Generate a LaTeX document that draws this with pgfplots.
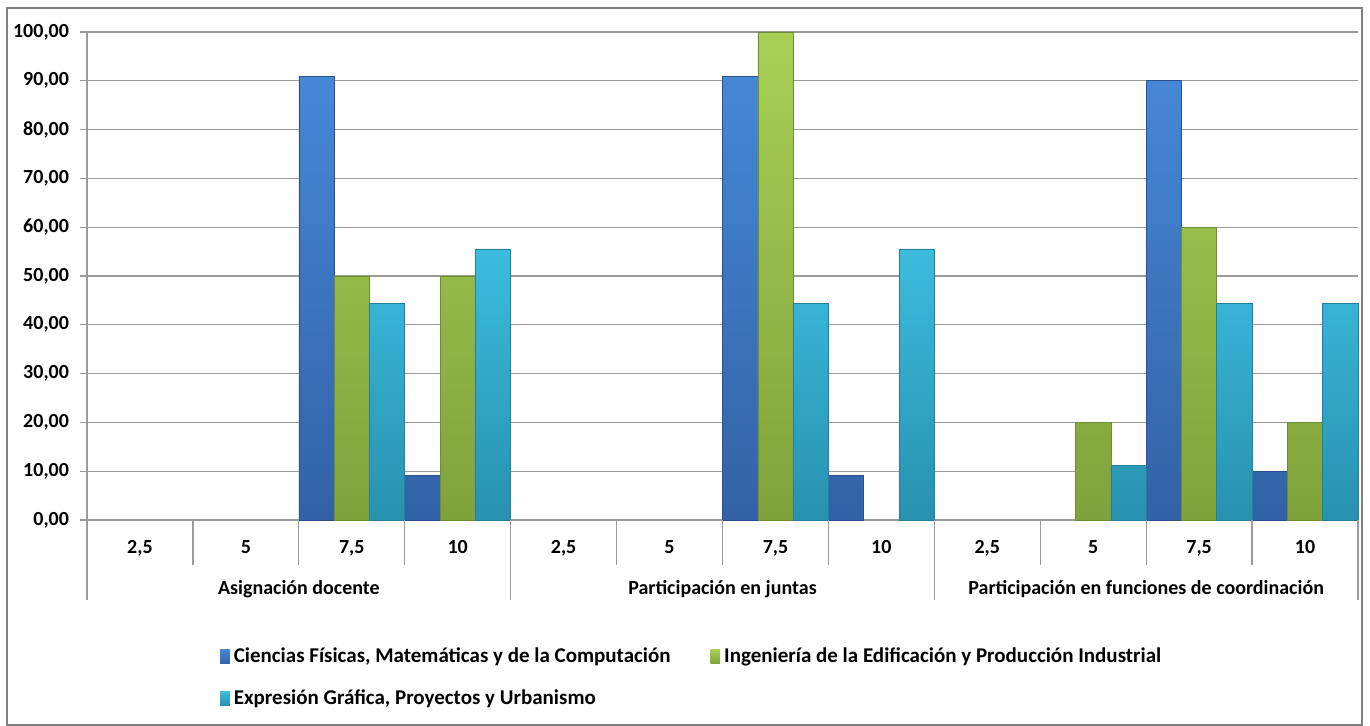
\documentclass[border=0pt]{standalone}
\usepackage{pgfplots}
\pgfplotsset{compat=1.18}
\usepackage{fontspec}
\setmainfont{Carlito}
\definecolor{bluetop}{RGB}{70,135,214}
\definecolor{bluebot}{RGB}{50,98,165}
\definecolor{blueedge}{RGB}{40,80,140}
\definecolor{greentop}{RGB}{168,208,86}
\definecolor{greenbot}{RGB}{128,162,60}
\definecolor{greenedge}{RGB}{110,140,50}
\definecolor{cyantop}{RGB}{60,188,222}
\definecolor{cyanbot}{RGB}{40,145,176}
\definecolor{cyanedge}{RGB}{35,125,155}
\definecolor{gridgray}{RGB}{155,155,155}
\definecolor{framegray}{RGB}{128,128,128}
\begin{document}
\begin{tikzpicture}
\path (0,0) rectangle (685pt,363pt);
\draw[framegray, line width=1pt] (3.5pt,0.5pt) rectangle (681pt,359pt);
\begin{axis}[
  at={(43.5pt,103pt)}, anchor=south west,
  scale only axis, width=635.5pt, height=244pt,
  font=\bfseries\fontsize{10pt}{12pt}\selectfont,
  ybar, bar width=0.3333,
  xmin=-0.5, xmax=11.5, ymin=0, ymax=100,
  ytick={0,10,...,100},
  xtick={0,...,11},
  xticklabels={{2,5},5,{7,5},10,{2,5},5,{7,5},10,{2,5},5,{7,5},10},
  /pgf/number format/assume math mode=true,
  yticklabel style={/pgf/number format/fixed, /pgf/number format/fixed zerofill, /pgf/number format/precision=2, /pgf/number format/use comma, /pgf/number format/1000 sep={}, xshift=-2pt},
  tick label style={font=\bfseries\fontsize{10pt}{12pt}\selectfont},
  axis y line*=left, axis x line*=bottom,
  axis line style={gridgray, line width=0.65pt, -},
  ymajorgrids, grid style={gridgray, line width=0.65pt},
  tick align=outside, major tick length=3.5pt,
  ytick style={gridgray, line width=0.65pt},
  xtick style={draw=none},
  xticklabel style={anchor=base, yshift=-13.5pt},
  clip=false,
  legend columns=2,
  legend cell align=left,
  legend style={draw=none, fill=none, at={(axis description cs:0.1045,-0.253)}, anchor=north west,
    font=\bfseries\fontsize{10.5pt}{12.5pt}\selectfont,
    /tikz/every even column/.append style={column sep=18pt},
    row sep=8pt, inner sep=0pt},
  legend image code/.code={\path[#1, draw=none] (0pt,-3.5pt) rectangle (4.8pt,3.5pt);},
]
\addplot[bar shift=-0.3333, draw=blueedge, line width=0.3pt, top color=bluetop, bottom color=bluebot]
  coordinates {(2,90.91) (3,9.09) (6,90.91) (7,9.09) (10,90) (11,10)};
\addplot[bar shift=0, draw=greenedge, line width=0.3pt, top color=greentop, bottom color=greenbot]
  coordinates {(2,50) (3,50) (6,100) (9,20) (10,60) (11,20)};
\addplot[bar shift=0.3333, draw=cyanedge, line width=0.3pt, top color=cyantop, bottom color=cyanbot]
  coordinates {(2,44.44) (3,55.56) (6,44.44) (7,55.56) (9,11.11) (10,44.44) (11,44.44)};
\legend{{Ciencias Físicas, Matemáticas y de la Computación}, {Ingeniería de la Edificación y Producción Industrial}, {Expresión Gráfica, Proyectos y Urbanismo}}
\pgfplotsinvokeforeach{0.5,1.5,2.5,4.5,5.5,6.5,8.5,9.5,10.5}{
  \draw[gridgray, line width=0.65pt] (axis cs:#1,0) -- ++(0pt,-22.5pt);
}
\pgfplotsinvokeforeach{-0.5,3.5,7.5,11.5}{
  \draw[gridgray, line width=0.65pt] (axis cs:#1,0) -- ++(0pt,-40pt);
}
\node[anchor=base] at ([yshift=-37.5pt]axis cs:1.5,0) {\bfseries Asignación docente};
\node[anchor=base] at ([yshift=-37.5pt]axis cs:5.5,0) {\bfseries Participación en juntas};
\node[anchor=base] at ([yshift=-37.5pt]axis cs:9.5,0) {\bfseries Participación en funciones de coordinación};
\end{axis}
\end{tikzpicture}
\end{document}
